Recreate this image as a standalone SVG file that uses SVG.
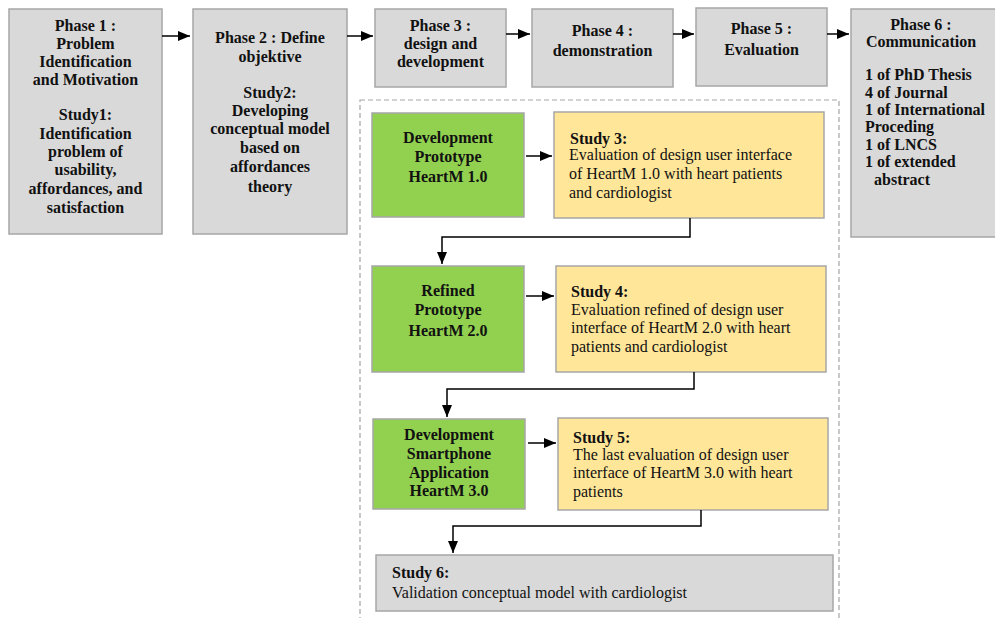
<svg xmlns="http://www.w3.org/2000/svg" width="995" height="618" viewBox="0 0 995 618">
  <defs>
    <marker id="arrow" viewBox="0 0 12 10" refX="12" refY="5" markerWidth="12" markerHeight="10" markerUnits="userSpaceOnUse" orient="auto">
      <path d="M0,0 L12,5 L0,10 Z" fill="#000"/>
    </marker>
    <style>
      .grey { fill: #d9d9d9; stroke: #a6a6a6; stroke-width: 1.5; }
      .green { fill: #92d050; stroke: #a6a6a6; stroke-width: 1.5; }
      .yellow { fill: #ffe699; stroke: #a6a6a6; stroke-width: 1.5; }
      .frame { fill: none; stroke: #a6a6a6; stroke-width: 1.2; stroke-dasharray: 5 3; }
      text { font-family: 'Liberation Serif', 'DejaVu Serif', serif; font-size: 16px; fill: #111; }
      .b { font-weight: bold; }
      .c { text-anchor: middle; }
      .conn path, .conn line { fill: none; stroke: #000; stroke-width: 1.5; marker-end: url(#arrow); }
    </style>
  </defs>
  <rect width="995" height="618" fill="#fff"/>

  <!-- dashed frame around the design and development studies -->
  <rect class="frame" x="360" y="100" width="479" height="530"/>

  <g font-family="Liberation Serif, serif">
  <g id="phase1">
    <rect class="grey" x="9" y="9" width="153" height="225"/>
    <text class="b c" x="85.5" y="31">Phase 1 :</text>
    <text class="b c" x="85.5" y="49">Problem</text>
    <text class="b c" x="85.5" y="67">Identification</text>
    <text class="b c" x="85.5" y="85">and Motivation</text>
    <text class="b c" x="85.5" y="120">Study1:</text>
    <text class="b c" x="85.5" y="139">Identification</text>
    <text class="b c" x="85.5" y="157">problem of</text>
    <text class="b c" x="85.5" y="175">usability,</text>
    <text class="b c" x="85.5" y="194">affordances, and</text>
    <text class="b c" x="85.5" y="213">satisfaction</text>
  </g>

  <g id="phase2">
    <rect class="grey" x="193" y="9" width="154" height="225"/>
    <text class="b c" x="270" y="43">Phase 2 : Define</text>
    <text class="b c" x="270" y="62">objektive</text>
    <text class="b c" x="270" y="98">Study2:</text>
    <text class="b c" x="270" y="116">Developing</text>
    <text class="b c" x="270" y="134">conceptual model</text>
    <text class="b c" x="270" y="153">based on</text>
    <text class="b c" x="270" y="172">affordances</text>
    <text class="b c" x="270" y="192">theory</text>
  </g>

  <g id="phase3">
    <rect class="grey" x="375" y="9" width="131" height="78"/>
    <text class="b c" x="440.5" y="31">Phase 3 :</text>
    <text class="b c" x="440.5" y="49">design and</text>
    <text class="b c" x="440.5" y="67">development</text>
  </g>

  <g id="phase4">
    <rect class="grey" x="532" y="9" width="141" height="78"/>
    <text class="b c" x="602.5" y="36">Phase 4 :</text>
    <text class="b c" x="602.5" y="56">demonstration</text>
  </g>

  <g id="phase5">
    <rect class="grey" x="696" y="8" width="131" height="78"/>
    <text class="b c" x="761.5" y="34">Phase 5 :</text>
    <text class="b c" x="761.5" y="55">Evaluation</text>
  </g>

  <g id="phase6">
    <rect class="grey" x="851" y="9" width="150" height="228"/>
    <text class="b c" x="921" y="30">Phase 6 :</text>
    <text class="b c" x="921" y="47">Communication</text>
    <text class="b" x="865" y="80">1 of PhD Thesis</text>
    <text class="b" x="865" y="98">4 of Journal</text>
    <text class="b" x="865" y="115">1 of International</text>
    <text class="b" x="865" y="132">Proceding</text>
    <text class="b" x="865" y="150">1 of LNCS</text>
    <text class="b" x="865" y="167">1 of extended</text>
    <text class="b" x="874" y="185">abstract</text>
  </g>

  <g id="prototype1">
    <rect class="green" x="372" y="113" width="152" height="104"/>
    <text class="b c" x="448" y="143">Development</text>
    <text class="b c" x="448" y="162">Prototype</text>
    <text class="b c" x="448" y="182">HeartM 1.0</text>
  </g>

  <g id="study3">
    <rect class="yellow" x="554" y="112" width="270" height="106"/>
    <text class="b" x="570" y="144">Study 3:</text>
    <text x="569" y="160">Evaluation of design user interface</text>
    <text x="569" y="179">of HeartM 1.0 with heart patients</text>
    <text x="569" y="198">and cardiologist</text>
  </g>

  <g id="prototype2">
    <rect class="green" x="372" y="266" width="152" height="106"/>
    <text class="b c" x="448" y="296">Refined</text>
    <text class="b c" x="448" y="315">Prototype</text>
    <text class="b c" x="448" y="336">HeartM 2.0</text>
  </g>

  <g id="study4">
    <rect class="yellow" x="556" y="266" width="270" height="106"/>
    <text class="b" x="571" y="297">Study 4:</text>
    <text x="571" y="315">Evaluation refined of design user</text>
    <text x="571" y="333">interface of HeartM 2.0 with heart</text>
    <text x="571" y="352">patients and cardiologist</text>
  </g>

  <g id="prototype3">
    <rect class="green" x="373" y="419" width="152" height="90"/>
    <text class="b c" x="449" y="440">Development</text>
    <text class="b c" x="449" y="459">Smartphone</text>
    <text class="b c" x="449" y="478">Application</text>
    <text class="b c" x="449" y="496">HeartM 3.0</text>
  </g>

  <g id="study5">
    <rect class="yellow" x="558" y="418" width="270" height="92"/>
    <text class="b" x="573" y="443">Study 5:</text>
    <text x="573" y="460">The last evaluation of design user</text>
    <text x="573" y="478">interface of HeartM 3.0 with heart</text>
    <text x="573" y="497">patients</text>
  </g>

  <g id="study6">
    <rect class="grey" x="376" y="555" width="457" height="56"/>
    <text class="b" x="392" y="578">Study 6:</text>
    <text x="392" y="598">Validation conceptual model with cardiologist</text>
  </g>
  </g>

  <g id="connectors" class="conn">
    <line x1="162" y1="36" x2="190" y2="36"/>
    <line x1="347" y1="36" x2="373" y2="36"/>
    <line x1="506" y1="34" x2="530" y2="34"/>
    <line x1="673" y1="34" x2="694" y2="34"/>
    <line x1="827" y1="34" x2="849" y2="34"/>
    <line x1="526" y1="156" x2="552" y2="156"/>
    <line x1="526" y1="296" x2="554" y2="296"/>
    <line x1="528" y1="443" x2="556" y2="443"/>
    <path d="M690,218 V237 H442 V264"/>
    <path d="M694,372 V389 H447 V417"/>
    <path d="M701,510 V526 H453 V553"/>
  </g>
</svg>
